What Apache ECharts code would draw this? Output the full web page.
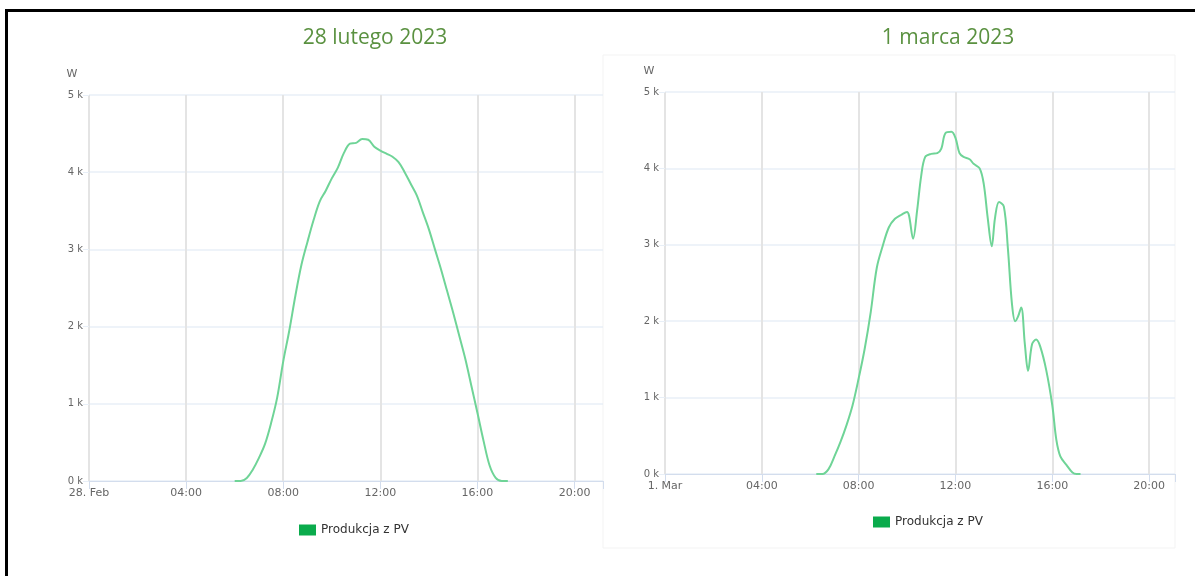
<!DOCTYPE html>
<html>
<head>
<meta charset="utf-8">
<script src="https://cdn.jsdelivr.net/npm/echarts@6/dist/echarts.min.js"></script>
<style>
  html, body { margin: 0; padding: 0; background: #fff; overflow: hidden; }
  #frame {
    position: absolute; left: 5px; top: 9px; width: 1400px; height: 800px;
    border-left: 3px solid #000; border-top: 3px solid #000;
  }
  #chart { position: absolute; left: 0; top: 0; width: 1195px; height: 576px; }
</style>
</head>
<body>
<div id="frame"></div>
<div id="chart"></div>
<script>
// 28 lutego 2023 - produkcja PV (W)
var febTimes = ["06:00","06:15","06:30","06:45","07:00","07:15","07:30","07:45","08:00","08:15",
  "08:30","08:45","09:00","09:15","09:30","09:45","10:00","10:15","10:30","10:45","11:00","11:15",
  "11:30","11:45","12:00","12:15","12:30","12:45","13:00","13:15","13:30","13:45","14:00","14:15",
  "14:30","14:45","15:00","15:15","15:30","15:45","16:00","16:15","16:30","16:45","17:00","17:15"];
var febValues = [0,0,40,150,300,480,750,1080,1550,1950,
  2400,2800,3100,3380,3620,3760,3920,4060,4250,4370,4380,4430,
  4420,4330,4280,4240,4200,4130,4000,3850,3700,3480,3260,3000,
  2740,2460,2180,1880,1580,1230,880,520,200,40,0,0];

// 1 marca 2023 - produkcja PV (W)
var marTimes = ["06:15","06:30","06:45","07:00","07:15","07:30","07:45","08:00","08:15","08:30",
  "08:45","09:00","09:15","09:30","09:45","10:00","10:05","10:15","10:25","10:35","10:45","11:00",
  "11:15","11:25","11:35","11:50","12:00","12:10","12:20","12:35","12:45","13:00","13:10","13:20",
  "13:30","13:38","13:48","14:00","14:10","14:20","14:28","14:35","14:43","14:52","15:00","15:10",
  "15:20","15:30","15:45","16:00","16:10","16:20","16:35","16:50","17:00","17:10"];
var marValues = [0,0,60,230,420,640,900,1250,1640,2120,
  2700,2990,3230,3340,3390,3430,3380,3080,3450,3900,4150,4190,
  4200,4260,4460,4480,4400,4200,4150,4120,4060,4000,3800,3350,
  2980,3350,3560,3500,2950,2230,2000,2060,2180,1700,1350,1700,
  1760,1670,1360,900,450,230,120,20,0,0];

var titles = ["28 lutego 2023", "1 marca 2023"];
var dayLabels = ["28. Feb", "1. Mar"];
var seriesName = "Produkcja z PV";
var yTicks = [0, 1000, 2000, 3000, 4000, 5000];

function toHours(t) {
  var p = t.split(":");
  return +p[0] + (+p[1]) / 60;
}
function pairs(times, values) {
  return times.map(function (t, i) { return [toHours(t), values[i]]; });
}
function pad(n) { return (n < 10 ? "0" : "") + n; }

var gridColor = "#e4e4e4";
var hColor = "#e8eff7";

function xAxisFor(idx, max) {
  return {
    type: "value", gridIndex: idx, min: 0, max: max, interval: 4,
    axisLine: { show: true, lineStyle: { color: "#d3dded", width: 1 } },
    axisTick: { show: true, length: 8, lineStyle: { color: "#d3dded" } },
    axisLabel: {
      color: "#666", fontSize: 11, fontFamily: "DejaVu Sans", margin: 7,
      formatter: function (v) {
        if (v % 4 !== 0) return "";
        return v === 0 ? dayLabels[idx] : pad(v) + ":00";
      }
    },
    splitLine: {
      show: true,
      lineStyle: { color: [gridColor, gridColor, gridColor, gridColor, gridColor, gridColor, "rgba(0,0,0,0)"], width: 2 }
    }
  };
}
function yAxisFor(idx) {
  return {
    type: "value", gridIndex: idx, min: yTicks[0], max: yTicks[yTicks.length - 1], interval: 1000,
    axisLine: { show: false },
    axisTick: { show: true, length: 6, lineStyle: { color: hColor } },
    axisLabel: {
      color: "#666", fontSize: 10, fontFamily: "DejaVu Sans", margin: 6,
      formatter: function (v) { return (v / 1000) + " k"; }
    },
    splitLine: { show: true, lineStyle: { color: hColor, width: 1.5 } }
  };
}

var chart = echarts.init(document.getElementById("chart"));
chart.setOption({
  animation: false,
  backgroundColor: "transparent",
  title: [
    { text: titles[0], left: 370, top: 23, textAlign: "center",
      textStyle: { color: "#5a9140", fontSize: 21, fontWeight: "normal", fontFamily: "Open Sans" } },
    { text: titles[1], left: 943, top: 23, textAlign: "center",
      textStyle: { color: "#5a9140", fontSize: 21, fontWeight: "normal", fontFamily: "Open Sans" } },
    { text: "W", left: 67, top: 64, textAlign: "center",
      textStyle: { color: "#666", fontSize: 11, fontWeight: "normal", fontFamily: "DejaVu Sans" } },
    { text: "W", left: 644, top: 61, textAlign: "center",
      textStyle: { color: "#666", fontSize: 11, fontWeight: "normal", fontFamily: "DejaVu Sans" } }
  ],
  graphic: [
    { type: "rect", z: -1, shape: { x: 603, y: 55, width: 572, height: 493 },
      style: { fill: "none", stroke: "#f3f3f3", lineWidth: 1 } }
  ],
  legend: [
    { left: 294, top: 519, itemWidth: 17, itemHeight: 11, itemGap: 6, icon: "rect",
      data: [{ name: seriesName, itemStyle: { color: "#0aab4c" } }],
      textStyle: { color: "#333", fontSize: 12, fontFamily: "DejaVu Sans" } },
    { left: 868, top: 511, itemWidth: 17, itemHeight: 11, itemGap: 6, icon: "rect",
      data: [{ name: seriesName, itemStyle: { color: "#0aab4c" } }],
      textStyle: { color: "#333", fontSize: 12, fontFamily: "DejaVu Sans" } }
  ],
  grid: [
    { left: 89, top: 95, width: 514, height: 386 },
    { left: 665, top: 92, width: 510, height: 382 }
  ],
  xAxis: [xAxisFor(0, 21.17), xAxisFor(1, 21.07)],
  yAxis: [yAxisFor(0), yAxisFor(1)],
  series: [
    { name: seriesName, type: "line", xAxisIndex: 0, yAxisIndex: 0, smooth: 0.35,
      showSymbol: false, symbol: "none", data: pairs(febTimes, febValues),
      lineStyle: { color: "#6fd497", width: 2 }, itemStyle: { color: "#6fd497" } },
    { name: seriesName, type: "line", xAxisIndex: 1, yAxisIndex: 1, smooth: 0.35,
      showSymbol: false, symbol: "none", data: pairs(marTimes, marValues),
      lineStyle: { color: "#6fd497", width: 2 }, itemStyle: { color: "#6fd497" } }
  ]
});
</script>
</body>
</html>
